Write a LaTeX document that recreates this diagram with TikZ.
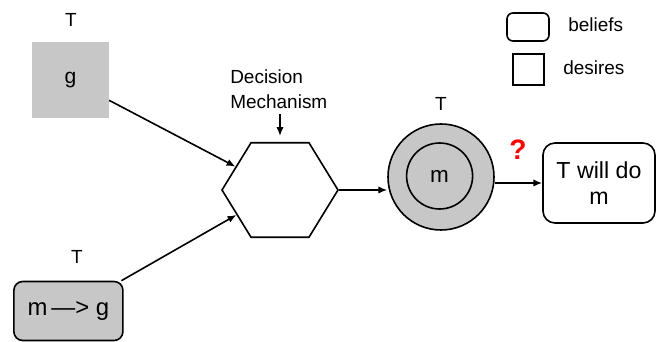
\documentclass[tikz,border=0pt]{standalone}
\usepackage{fontspec}
\setmainfont{Liberation Sans}
\usepackage{tikz}
\usetikzlibrary{shapes.geometric,arrows.meta}
\tikzset{
	arr/.style={line width=0.4mm, -{Latex[length=2.2mm,width=1.8mm]}},
	lbl/.style={inner sep=0pt, font=\fontsize{13.5}{17.8}\selectfont},
	shade/.style={fill=black!22},
}

\begin{document}
\begin{tikzpicture}
		%%%%% START %%%%%
		\useasboundingbox (0, 0) rectangle (16.4, 8.55);
		
		% desire g
		\node[lbl] (tg) at (1.77, 8.05) {T};
		\node[shade, minimum width=1.925cm, minimum height=1.9cm, font=\fontsize{15}{17}\selectfont] (g) at (1.76, 6.55) {g};
		
		% belief m -> g
		\node[lbl] (tmg) at (1.92, 2.12) {T};
		\node[shade, draw, line width=0.4mm, rounded corners=0.22cm, minimum width=2.725cm, minimum height=1.475cm, font=\fontsize{17}{19}\selectfont] (mg) at (1.71, 0.775) {m\,—> g};
		
		% decision mechanism
		\node[draw, line width=0.4mm, regular polygon, regular polygon sides=6, minimum size=2.9cm, inner sep=0pt, yscale=0.94, transform shape] (hex) at (7.0, 3.8) {};
		\node[lbl, anchor=west, align=left] (dm) at (5.75, 6.31) {Decision\\Mechanism};
		\draw[arr, shorten >=0.15cm] (dm.south -| hex.north) ++(0, -0.12) -- (hex.north);
		
		\draw[arr] (g) -- (hex);
		\draw[arr] (mg) -- (hex);
		
		% intention m
		\node[lbl] (tm) at (11.025, 5.95) {T};
		\node[shade, draw, line width=0.4mm, circle, minimum size=2.65cm] (outer) at (11.025, 4.125) {};
		\node[shade, draw, line width=0.4mm, circle, minimum size=1.65cm, font=\fontsize{16}{18}\selectfont] (inner) at (10.99, 4.15) {m};
		\draw[arr] (hex.east) -- (hex.east -| outer.west);
		
		% outcome
		\node[draw, line width=0.4mm, rounded corners=0.3cm, minimum width=2.8cm, minimum height=2.0cm, align=center, font=\fontsize{16.5}{18.5}\selectfont] (willdo) at (14.975, 3.975) {T will do\\m};
		\draw[arr] (willdo.west -| outer.east) -- (willdo.west);
		\node[text=red, font=\fontsize{20}{22}\selectfont\bfseries] (q) at (12.95, 4.8) {?};
		
		% legend
		\node[draw, line width=0.4mm, rounded corners=0.15cm, minimum width=1.05cm, minimum height=0.7cm] (kb) at (13.2, 7.875) {};
		\node[lbl, anchor=west] (kbt) at (14.2, 7.925) {beliefs};
		\node[draw, line width=0.4mm, minimum size=0.775cm] (kd) at (13.21, 6.81) {};
		\node[lbl, anchor=west] (kdt) at (14.075, 6.85) {desires};
		
		%%%%% END %%%%%
	\end{tikzpicture}
\end{document}
